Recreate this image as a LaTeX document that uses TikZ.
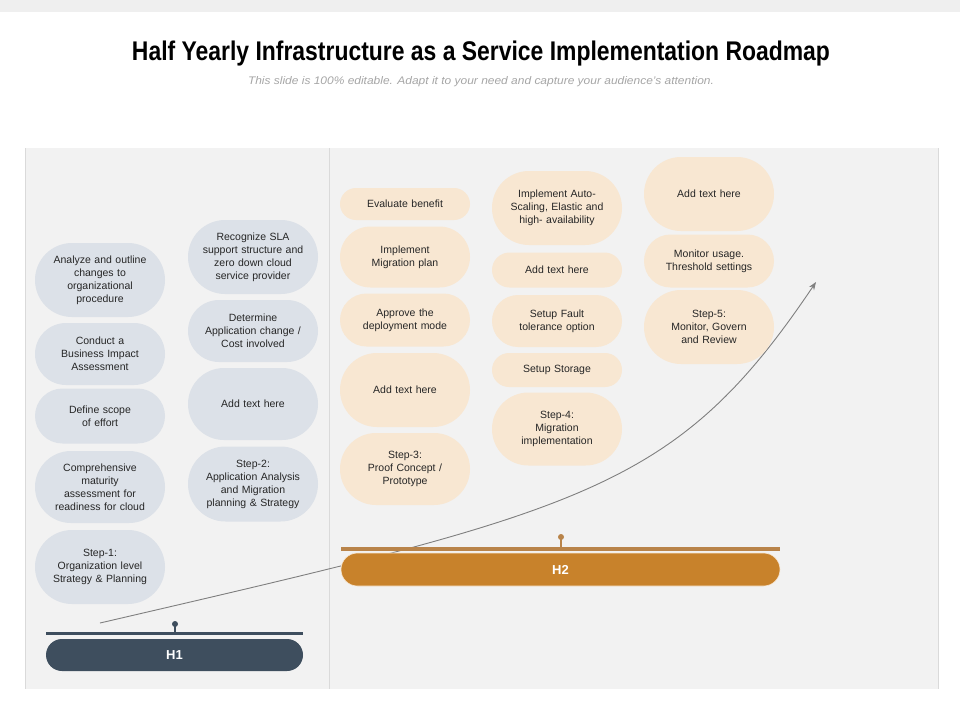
\documentclass[tikz,border=0pt]{standalone}
\usepackage{fontspec}
\setmainfont{Liberation Sans}
\usepackage{graphicx}
\usetikzlibrary{arrows.meta}
\definecolor{topgrey}{HTML}{EFEFEF}
\definecolor{panel}{HTML}{F2F2F2}
\definecolor{panelline}{HTML}{DADADA}
\definecolor{greypill}{HTML}{DCE1E8}
\definecolor{beigepill}{HTML}{F8E7D2}
\definecolor{txt}{HTML}{262626}
\definecolor{hone}{HTML}{3E4E5E}
\definecolor{htwo}{HTML}{C8822B}
\definecolor{htwoline}{HTML}{B9844A}
\definecolor{subgrey}{HTML}{A6A6A6}
\definecolor{curve}{HTML}{7F7F7F}
\tikzset{
  pillbase/.style={inner sep=0pt, text width=124pt, minimum width=130pt, align=center,
    text=txt, font=\fontsize{10.5}{13}\selectfont},
  gp/.style={pillbase, fill=greypill},
  bp/.style={pillbase, fill=beigepill},
  hbar/.style={inner sep=0pt, text=white, font=\fontsize{13}{15}\selectfont\bfseries},
}
\begin{document}
\begin{tikzpicture}[x=1pt,y=-1pt]
\useasboundingbox (0,0) rectangle (960,720);
\fill[white] (0,0) rectangle (960,720);
\fill[topgrey] (0,0) rectangle (960,12);
% panels
\fill[panel] (25,148) rectangle (938,689);
\draw[panelline, line width=0.6pt] (25,148) -- (25,689);
\draw[panelline, line width=0.6pt] (938,148) -- (938,689);
\draw[panelline, line width=0.8pt] (329.5,148) -- (329.5,689);
% title
\node[inner sep=0pt, font=\fontsize{27}{30}\selectfont\bfseries] (title) at (481,54)
  {\resizebox{698pt}{\height}{Half Yearly Infrastructure as a Service Implementation Roadmap}};
\node[inner sep=0pt, text=subgrey, font=\fontsize{11}{13}\selectfont\itshape] (subtitle) at (481,82)
  {\resizebox{466pt}{\height}{This slide is 100\% editable. Adapt it to your need and capture your audience’s attention.}};
% growth curve (behind everything else)
\coordinate (cs) at (100,623);
\coordinate (ce) at (816,282);
\draw[curve, line width=0.9pt, -{Stealth[length=8pt,width=6pt]}] (cs) .. controls (587,510) and (676,490) .. (ce);
% column 1
\node[gp, minimum height=74pt, rounded corners=37pt] (c1a) at (100,280) {Analyze and outline\\changes to\\organizational\\procedure};
\node[gp, minimum height=62pt, rounded corners=31pt] (c1b) at (100,354) {Conduct a\\Business Impact\\Assessment};
\node[gp, minimum height=55pt, rounded corners=27.5pt] (c1c) at (100,416) {Define scope\\of effort};
\node[gp, minimum height=72pt, rounded corners=36pt] (c1d) at (100,487) {Comprehensive\\maturity\\assessment for\\readiness for cloud};
\node[gp, minimum height=74pt, rounded corners=37pt] (c1e) at (100,567) {Step-1:\\Organization level\\Strategy \& Planning};
% column 2
\node[gp, minimum height=74pt, rounded corners=37pt] (c2a) at (253,257) {Recognize SLA\\support structure and\\zero down cloud\\service provider};
\node[gp, minimum height=62pt, rounded corners=31pt] (c2b) at (253,331) {Determine\\Application change /\\Cost involved};
\node[gp, minimum height=72pt, rounded corners=36pt] (c2c) at (253,404) {Add text here};
\node[gp, minimum height=75pt, rounded corners=37.5pt] (c2d) at (253,484) {Step-2:\\Application Analysis\\and Migration\\planning \& Strategy};
% column 3
\node[bp, minimum height=32pt, rounded corners=16pt] (c3a) at (405,204) {Evaluate benefit};
\node[bp, minimum height=61pt, rounded corners=30.5pt] (c3b) at (405,257) {Implement\\Migration plan};
\node[bp, minimum height=53pt, rounded corners=26.5pt] (c3c) at (405,320) {Approve the\\deployment mode};
\node[bp, minimum height=74pt, rounded corners=37pt] (c3d) at (405,390) {Add text here};
\node[bp, minimum height=72pt, rounded corners=36pt] (c3e) at (405,469) {Step-3:\\Proof Concept /\\Prototype};
% column 4
\node[bp, minimum height=74pt, rounded corners=37pt] (c4a) at (557,208) {Implement Auto-\\Scaling, Elastic and\\high- availability};
\node[bp, minimum height=35pt, rounded corners=17.5pt] (c4b) at (557,270) {Add text here};
\node[bp, minimum height=52pt, rounded corners=26pt] (c4c) at (557,321) {Setup Fault\\tolerance option};
\node[bp, minimum height=34pt, rounded corners=17pt] (c4d) at (557,370) {Setup Storage};
\node[bp, minimum height=73pt, rounded corners=36.5pt] (c4e) at (557,429) {Step-4:\\Migration\\implementation};
% column 5
\node[bp, minimum height=74pt, rounded corners=37pt] (c5a) at (709,194) {Add text here};
\node[bp, minimum height=53pt, rounded corners=26.5pt] (c5b) at (709,261) {Monitor usage.\\Threshold settings};
\node[bp, minimum height=74pt, rounded corners=37pt] (c5c) at (709,327) {Step-5:\\Monitor, Govern\\and Review};
% H1
\draw[hone, line width=3pt] (46,633) -- (303,633);
\draw[hone, line width=1.5pt] (175,625) -- (175,633);
\fill[hone] (175,624) circle (3pt);
\node[hbar, fill=hone, minimum width=257pt, minimum height=32pt, rounded corners=16pt] (h1) at (174.5,655) {H1};
% H2
\draw[htwoline, line width=4pt] (341,549) -- (780,549);
\draw[htwoline, line width=1.5pt] (561,538) -- (561,549);
\fill[htwoline] (561,537) circle (3pt);
\node[hbar, fill=htwo, draw=beigepill, line width=0.6pt, minimum width=439pt, minimum height=33pt, rounded corners=16.5pt] (h2) at (560.5,569.5) {H2};
\end{tikzpicture}
\end{document}
